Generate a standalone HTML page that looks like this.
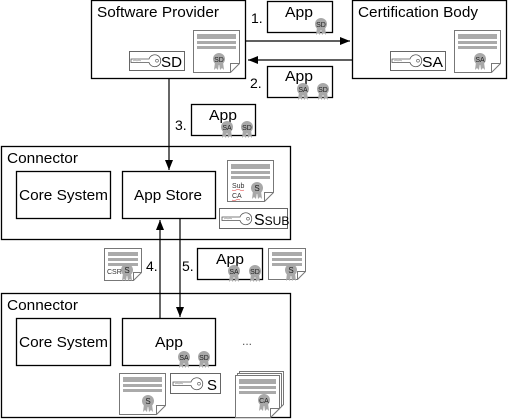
<!DOCTYPE html>
<html><head><style>html,body{margin:0;padding:0;background:#fff;}svg{display:block}svg text{font-family:"Liberation Sans",Arial,sans-serif}</style></head><body>
<svg width="508" height="419" xmlns="http://www.w3.org/2000/svg" font-family="Liberation Sans">
<defs>
<marker id="ah" markerWidth="10" markerHeight="8" refX="10" refY="4" orient="auto" markerUnits="userSpaceOnUse"><path d="M0,0 L10,4 L0,8 z" fill="#000"/></marker>
<g id="seal"><path d="M-4,3 L-5,11 L-3,9 L-1,11 L0,4 L1,11 L3,9 L5,11 L4,3 z" fill="#a8a8a8"/><circle cx="0" cy="0" r="6" fill="#a8a8a8"/></g>
<g id="keyi"><path d="M2,8 h18 a6,6 0 1 1 0,3.5 h-18 z" fill="#fff" stroke="#555" stroke-width="0.8"/><path d="M4,10 l2,-1 l2,1 l2,-1 l2,1" fill="none" stroke="#777" stroke-width="0.5"/><circle cx="28" cy="9.7" r="1.4" fill="none" stroke="#555" stroke-width="0.6"/></g>
</defs>
<g fill="none" stroke="#000" stroke-width="1.3">
<rect x="91.5" y="0.5" width="154" height="78"/>
<rect x="352.5" y="0.5" width="154" height="78"/>
<rect x="267.5" y="1.5" width="65" height="31"/>
<rect x="267.5" y="66.5" width="65" height="31"/>
<rect x="191.5" y="104.5" width="64" height="31"/>
<rect x="1.5" y="146.5" width="289" height="93"/>
<rect x="16.5" y="171.5" width="94" height="47"/>
<rect x="122.5" y="171.5" width="93" height="47"/>
<rect x="197.5" y="248.5" width="65" height="31"/>
<rect x="1.5" y="293.5" width="289" height="124"/>
<rect x="16.5" y="318.5" width="94" height="47"/>
<rect x="122.5" y="318.5" width="93" height="47"/>
</g>
<g stroke="#000" stroke-width="1.2">
<line x1="246" y1="41" x2="350" y2="41" marker-end="url(#ah)"/>
<line x1="352" y1="60" x2="248" y2="60" marker-end="url(#ah)"/>
<line x1="169" y1="79" x2="169" y2="170" marker-end="url(#ah)"/>
<line x1="160" y1="318" x2="160" y2="220" marker-end="url(#ah)"/>
<line x1="180" y1="219" x2="180" y2="317" marker-end="url(#ah)"/>
</g>
<g font-size="15" fill="#000">
<text x="97" y="17" textLength="122" lengthAdjust="spacingAndGlyphs">Software Provider</text>
<text x="358" y="17" textLength="120" lengthAdjust="spacingAndGlyphs">Certification Body</text>
<text x="7" y="163" textLength="71" lengthAdjust="spacingAndGlyphs">Connector</text>
<text x="7" y="310" textLength="71" lengthAdjust="spacingAndGlyphs">Connector</text>
<text x="19" y="200" textLength="89" lengthAdjust="spacingAndGlyphs">Core System</text>
<text x="19" y="347" textLength="89" lengthAdjust="spacingAndGlyphs">Core System</text>
<text x="134" y="200" textLength="68" lengthAdjust="spacingAndGlyphs">App Store</text>
<text x="155" y="347" textLength="28" lengthAdjust="spacingAndGlyphs">App</text>
<text x="285" y="17" textLength="28" lengthAdjust="spacingAndGlyphs">App</text>
<text x="285" y="81" textLength="28" lengthAdjust="spacingAndGlyphs">App</text>
<text x="209" y="120" textLength="28" lengthAdjust="spacingAndGlyphs">App</text>
<text x="216" y="264" textLength="28" lengthAdjust="spacingAndGlyphs">App</text>
<text x="251" y="23" font-size="14">1.</text>
<text x="250" y="88" font-size="14">2.</text>
<text x="175" y="130" font-size="14">3.</text>
<text x="146" y="271" font-size="14">4.</text>
<text x="182" y="271" font-size="14">5.</text>
<text x="242" y="345" font-size="12" fill="#555">...</text>
</g>
<g fill="#fff" stroke="#777" stroke-width="1">
<path d="M193.5,30.5 h46 v33 l-9,9 h-37 z"/><path d="M230.5,72.5 v-9 h9" fill="none"/>
<path d="M454.5,30.5 h46 v33 l-9,9 h-37 z"/><path d="M491.5,72.5 v-9 h9" fill="none"/>
<path d="M227.5,160.5 h46 v32 l-9,9 h-37 z"/><path d="M264.5,201.5 v-9 h9" fill="none"/>
<path d="M104.5,248.5 h37 v24 l-8,8 h-29 z"/><path d="M133.5,280.5 v-8 h8" fill="none"/>
<path d="M268.5,248.5 h37 v23 l-8,8 h-29 z"/><path d="M297.5,279.5 v-8 h8" fill="none"/>
<path d="M119.5,373.5 h46 v32 l-9,9 h-37 z"/><path d="M156.5,414.5 v-9 h9" fill="none"/>
<path d="M239.5,371.5 h44 v33 l-9,9 h-35 z"/>
<path d="M237.5,373.5 h44 v33 l-9,9 h-35 z"/>
<path d="M235.5,375.5 h44 v33 l-9,9 h-35 z"/><path d="M270.5,417.5 v-9 h9" fill="none"/>
</g>
<g fill="#aaa">
<rect x="197" y="34" width="39" height="5"/><rect x="197" y="41" width="39" height="3"/><rect x="197" y="46" width="39" height="3"/>
<rect x="458" y="34" width="39" height="5"/><rect x="458" y="41" width="39" height="3"/><rect x="458" y="46" width="39" height="3"/>
<rect x="231" y="164" width="39" height="5"/><rect x="231" y="171" width="39" height="3"/><rect x="231" y="176" width="39" height="3"/>
<rect x="108" y="252" width="30" height="4"/><rect x="108" y="258" width="30" height="3"/><rect x="108" y="263" width="30" height="3"/>
<rect x="272" y="252" width="30" height="4"/><rect x="272" y="258" width="30" height="3"/><rect x="272" y="263" width="30" height="3"/>
<rect x="123" y="377" width="39" height="5"/><rect x="123" y="384" width="39" height="3"/><rect x="123" y="389" width="39" height="3"/>
<rect x="239" y="379" width="37" height="5"/><rect x="239" y="386" width="37" height="3"/><rect x="239" y="391" width="37" height="3"/>
</g>
<g fill="#fff" stroke="#666" stroke-width="1">
<rect x="129.5" y="51.5" width="55" height="19"/>
<rect x="390.5" y="51.5" width="55" height="19"/>
<rect x="219.5" y="208.5" width="68" height="20"/>
<rect x="170.5" y="373.5" width="50" height="20"/>
</g>
<use href="#keyi" x="129" y="51"/><use href="#keyi" x="390" y="51"/><use href="#keyi" x="220" y="209"/><use href="#keyi" x="171" y="374"/>
<g font-size="15" fill="#000">
<text x="161" y="67" textLength="21" lengthAdjust="spacingAndGlyphs">SD</text><text x="422" y="67" textLength="21" lengthAdjust="spacingAndGlyphs">SA</text>
<text x="254" y="225" font-size="16">S<tspan font-size="12">SUB</tspan></text>
<text x="207" y="390">S</text>
</g>
<g>
<use href="#seal" x="321" y="24"/><use href="#seal" x="219" y="59"/><use href="#seal" x="480" y="59"/>
<use href="#seal" x="303" y="89"/><use href="#seal" x="323" y="89"/>
<use href="#seal" x="227" y="127"/><use href="#seal" x="247" y="127"/>
<use href="#seal" x="257" y="188"/>
<use href="#seal" x="127" y="270"/><use href="#seal" x="234" y="271"/><use href="#seal" x="255" y="271"/><use href="#seal" x="291" y="270"/>
<use href="#seal" x="184" y="357"/><use href="#seal" x="204" y="357"/>
<use href="#seal" x="148" y="401"/><use href="#seal" x="264" y="400"/>
</g>
<g font-size="7" fill="#222" text-anchor="middle">
<text x="321" y="27">SD</text><text x="219" y="62">SD</text><text x="480" y="62">SA</text>
<text x="303" y="92">SA</text><text x="323" y="92">SD</text>
<text x="227" y="130">SA</text><text x="247" y="130">SD</text>
<text x="257" y="191" font-size="8">S</text>
<text x="127" y="273" font-size="8">S</text><text x="234" y="274">SA</text><text x="255" y="274">SD</text><text x="291" y="273" font-size="8">S</text>
<text x="184" y="360">SA</text><text x="204" y="360">SD</text>
<text x="148" y="404" font-size="8">S</text><text x="264" y="403">CA</text>
</g>
<g font-size="7" fill="#333">
<text x="232" y="188">Sub</text><text x="232" y="198">CA</text>
<text x="107" y="274">CSR</text>
</g>
<path d="M232,190 q2,1 4,0 t4,0 t4,0 M232,200 q2,1 4,0 t4,0" stroke="#d33" stroke-width="0.6" fill="none"/>
</svg>
</body></html>
